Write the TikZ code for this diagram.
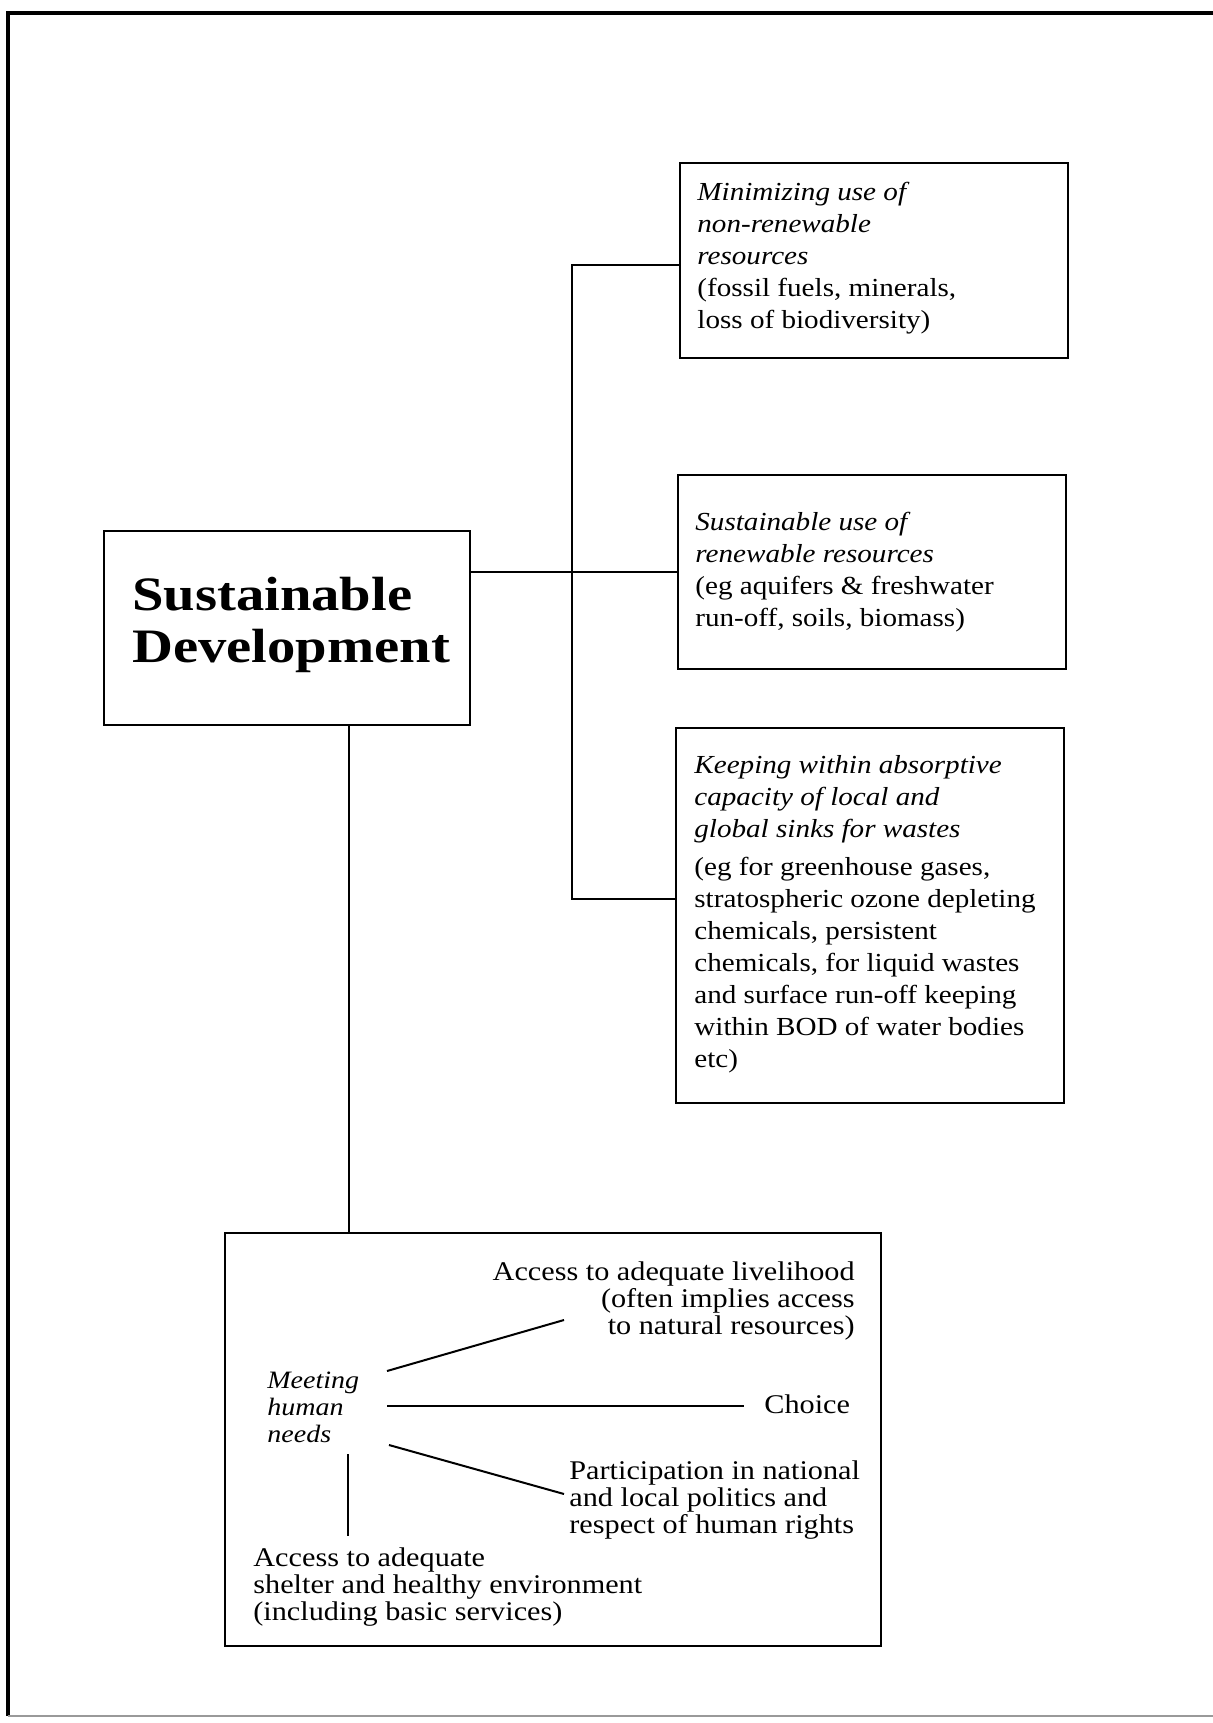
\documentclass[tikz,border=0pt]{standalone}
\usepackage{fontspec}
\setmainfont{Liberation Serif}[FakeStretch=1.12]
\newfontfamily\titlefont{Liberation Serif}[FakeStretch=1.18]
\usetikzlibrary{calc}
\begin{document}
\begin{tikzpicture}[x=0.5pt,y=-0.5pt,
  box/.style={draw,line width=1.2pt,inner sep=0pt},
  txt/.style={inner sep=0pt,align=left,anchor=west,font=\fontsize{13}{16}\selectfont},
  small/.style={inner sep=0pt,font=\fontsize{13.5}{13.5}\selectfont},
  conn/.style={line width=1pt}]
\useasboundingbox (0,0) rectangle (1213,1723);
% outer frame
\draw[line width=2pt] (8,1716) -- (8,13) -- (1213,13);
\draw[line width=0.8pt,black!40] (8,1716) -- (1213,1716);
% boxes
\node[box,minimum width=183pt,minimum height=97pt] (b0) at (287,628) {};
\node[box,minimum width=194pt,minimum height=97.5pt] (b1) at (874,260.5) {};
\node[box,minimum width=194pt,minimum height=97pt] (b2) at (872,572) {};
\node[box,minimum width=194pt,minimum height=187.5pt] (b3) at (870,915.5) {};
\node[box,minimum width=328pt,minimum height=206.5pt] (b4) at (553,1439.5) {};
% texts
\node[inner sep=0pt,align=left,font=\titlefont\bfseries\fontsize{24}{26}\selectfont] (t0) at (291,625) {Sustainable\\Development};
\node[txt] (t1) at (697,258) {\textit{Minimizing use of}\\\textit{non-renewable}\\\textit{resources}\\(fossil fuels, minerals,\\loss of biodiversity)};
\node[txt] (t2) at (695,572) {\textit{Sustainable use of}\\\textit{renewable resources}\\(eg aquifers \& freshwater\\run-off, soils, biomass)};
\node[txt] (t3) at (694,914) {\textit{Keeping within absorptive}\\\textit{capacity of local and}\\\textit{global sinks for wastes}\\[3pt](eg for greenhouse gases,\\stratospheric ozone depleting\\chemicals, persistent\\chemicals, for liquid wastes\\and surface run-off keeping\\within BOD of water bodies\\etc)};
% main connectors
\coordinate (tr1) at (572,265);
\coordinate (tr3) at (572,899);
\coordinate (sdx) at (349,0);
\draw[conn] (b0.east |- b2.west) -- (b2.west);
\draw[conn] (b1.west |- tr1) -- (tr1) -- (tr3) -- (b3.west |- tr3);
\draw[conn] (b0.south -| sdx) -- (b4.north -| sdx);
% bottom box contents
\node[small,align=right,anchor=east] (liv) at (855,1301) {Access to adequate livelihood\\(often implies access\\to natural resources)};
\node[inner sep=0pt,align=left,anchor=west,font=\itshape\fontsize{12.5}{13.5}\selectfont] (meet) at (267,1407) {Meeting\\human\\needs};
\node[small,anchor=west] (choice) at (764,1404) {Choice};
\node[small,align=left,anchor=west] (part) at (569,1500) {Participation in national\\and local politics and\\respect of human rights};
\node[small,align=left,anchor=west] (shel) at (253,1587) {Access to adequate\\shelter and healthy environment\\(including basic services)};
\coordinate (m1) at (387,1371); \coordinate (e1) at (564,1320);
\coordinate (m2) at (387,1406); \coordinate (e2) at (744,1406);
\coordinate (m3) at (389,1445); \coordinate (e3) at (564,1494);
\coordinate (m4) at (348,1454); \coordinate (e4) at (348,1536);
\draw[conn] (m1) -- (e1);
\draw[conn] (m2) -- (e2);
\draw[conn] (m3) -- (e3);
\draw[conn] (m4) -- (e4);
\end{tikzpicture}
\end{document}
